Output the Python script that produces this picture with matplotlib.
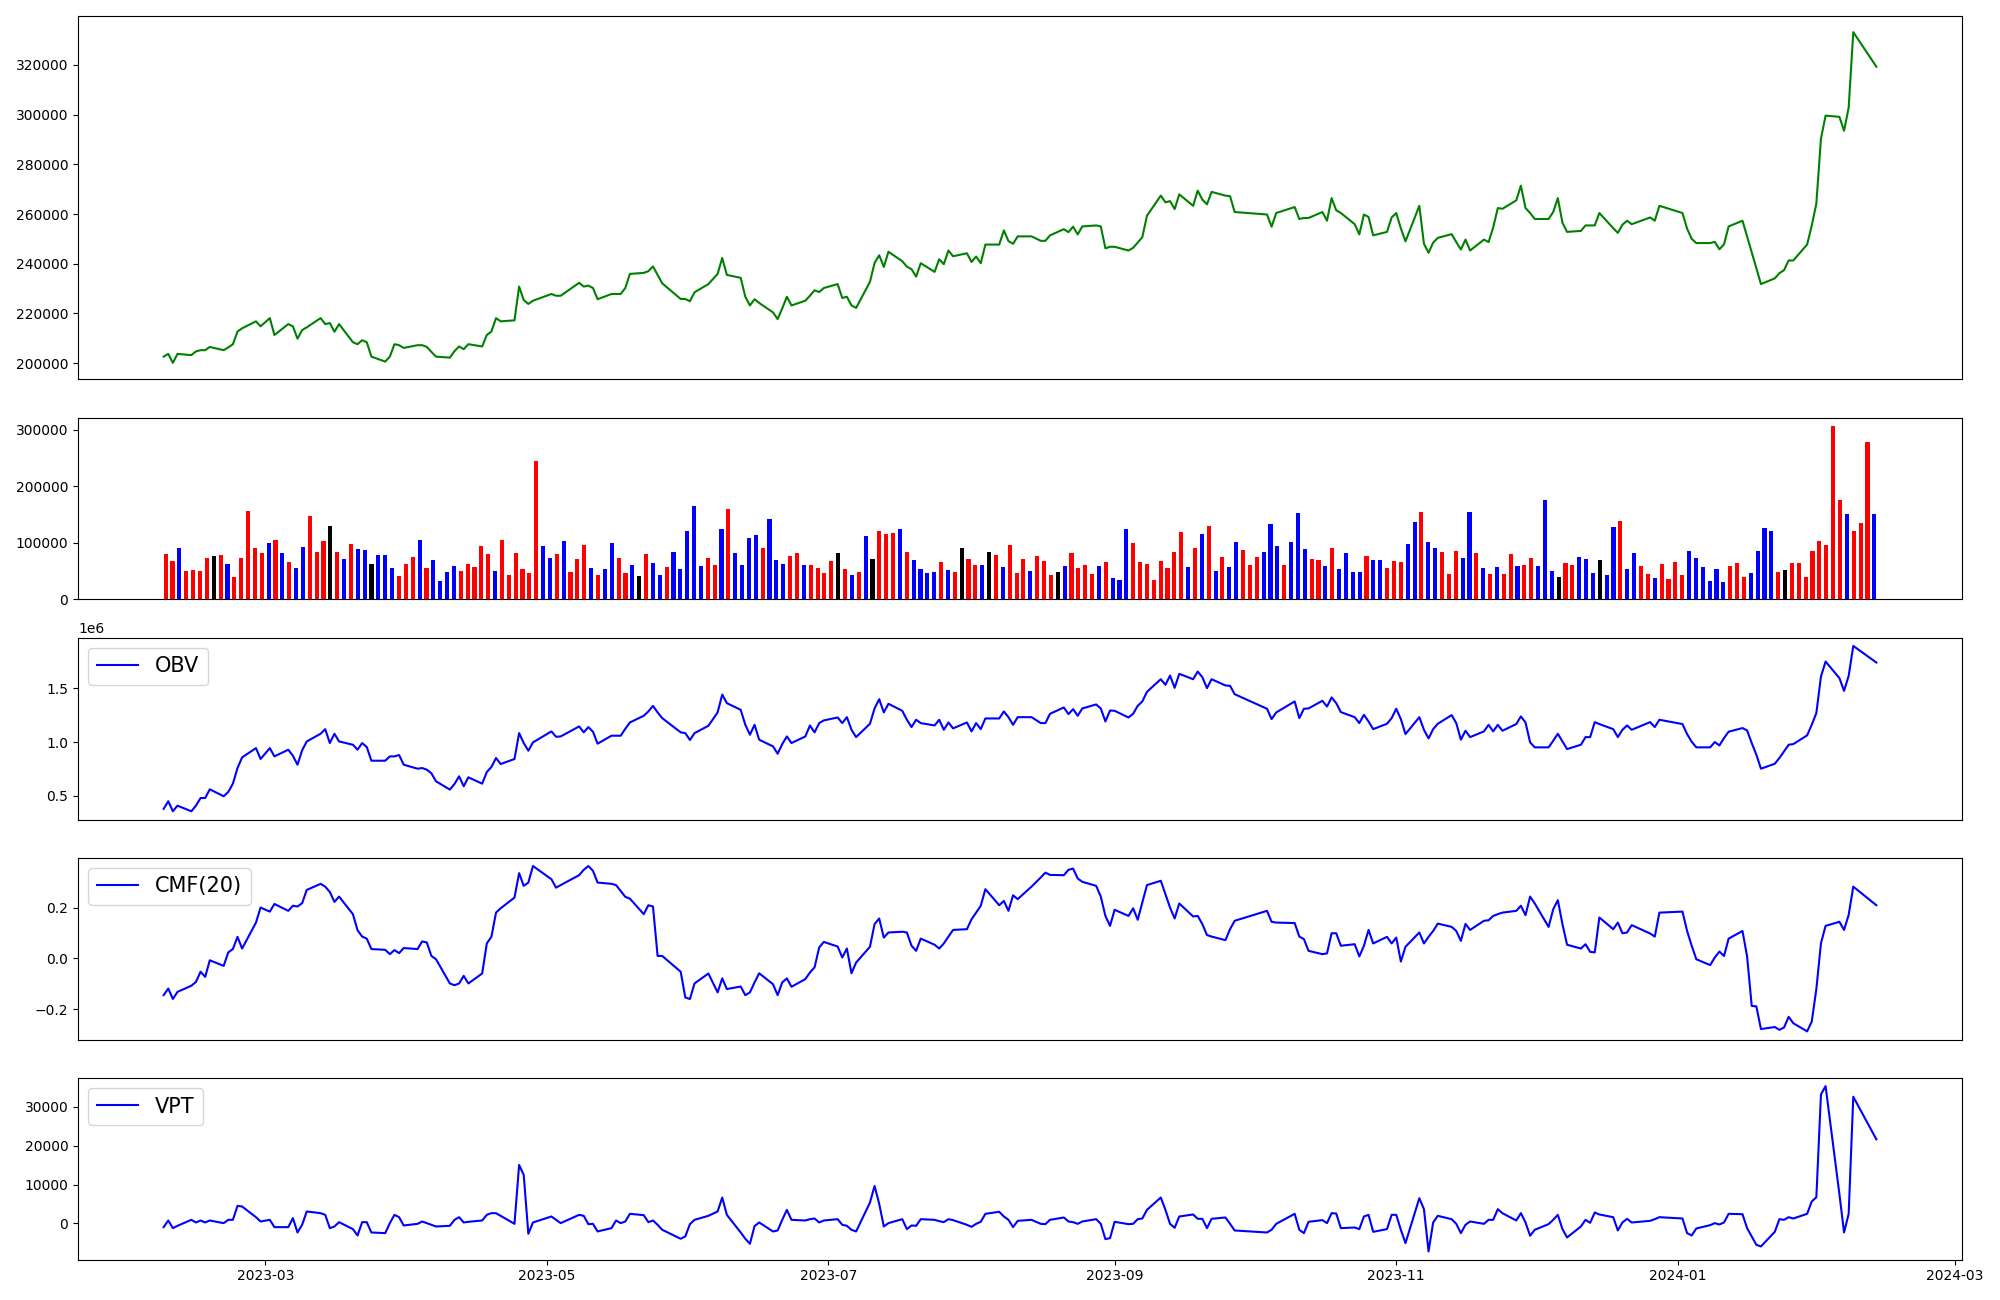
import numpy as np
import pandas as pd
import matplotlib
matplotlib.use("Agg")
import matplotlib.pyplot as plt
import matplotlib.dates as mdates

# trading days (KRX calendar)
holidays = ['2023-03-01', '2023-05-01', '2023-05-05', '2023-05-29', '2023-06-06',
            '2023-08-15', '2023-09-28', '2023-09-29', '2023-10-02', '2023-10-03',
            '2023-10-09', '2023-12-25', '2023-12-29', '2024-01-01', '2024-02-09',
            '2024-02-12']
dates = pd.bdate_range('2023-02-07', '2024-02-13', freq='C', holidays=holidays)

close = [
    202600, 203700, 200100, 203700, 203200, 204700, 205200, 205200, 206500, 205200,
    206300, 207600, 212700, 214000, 216800, 214800, 218100, 211300, 215700, 214800,
    209800, 213300, 214400, 218100, 215700, 216100, 212600, 215700, 208400, 207600,
    209200, 208400, 202600, 200600, 202600, 207600, 207200, 206100, 207200, 207200,
    206500, 204500, 202600, 202200, 204800, 206700, 205600, 207600, 206700, 211300,
    212700, 218100, 216800, 217200, 230800, 225400, 223800, 225100, 227800, 227100,
    227100, 232300, 230800, 231200, 230200, 225700, 227800, 227800, 227800, 230200,
    235900, 236300, 237000, 238900, 235500, 232100, 225800, 225800, 224900, 228500,
    231800, 235900, 242300, 235500, 234300, 226700, 223200, 225700, 224200, 220400,
    217700, 222000, 226700, 223200, 225100, 227100, 229300, 228600, 230200, 231800,
    226200, 226700, 223200, 222200, 232700, 240300, 243400, 238700, 244800, 241000,
    238800, 237800, 234800, 240200, 236700, 241800, 239800, 245300, 243000, 244200,
    240700, 242900, 240200, 247700, 247700, 253400, 249100, 248000, 251000, 251000,
    249200, 249200, 251400, 253900, 252700, 254900, 251800, 255000, 255400, 255000,
    246200, 246800, 246800, 245300, 246400, 248500, 250700, 259300, 267400, 264700,
    265200, 262000, 267900, 263300, 269400, 265800, 263900, 268900, 267400, 267200,
    260800, 259800, 254900, 260400, 262800, 258000, 258400, 258400, 260800, 257300,
    266400, 261500, 260400, 255900, 251800, 259800, 258800, 251400, 252800, 258600,
    260400, 254200, 249000, 263300, 248000, 244400, 248500, 250400, 251900, 248700,
    245700, 249700, 245300, 249700, 248700, 254600, 262400, 262100, 265500, 271400,
    262400, 260400, 258000, 258000, 260800, 266400, 256500, 252800, 253200, 255400,
    255400, 255400, 260400, 254300, 252400, 255700, 257300, 255900, 258600, 257300,
    263300, 260400, 254100, 250000, 248300, 248300, 248800, 245800, 247800, 255000,
    257300, 251000, 244600, 238200, 231800, 234100, 236200, 237400, 241300, 241300,
    247700, 255300, 264200, 290400, 299600, 299100, 293500, 302800, 333200, 319300,
]

volume = [
    79600, 67200, 90200, 49500, 51300, 49500, 72500, 76000, 77800, 61900,
    38900, 72500, 155600, 90200, 81300, 99000, 104300, 81300, 65400, 54800,
    91900, 146700, 83100, 102500, 129100, 83100, 70700, 97200, 88400, 86600,
    61900, 77800, 77800, 54800, 40700, 61900, 74300, 104300, 54800, 69000,
    31800, 47700, 58300, 49500, 61900, 56600, 93700, 79600, 49500, 104300,
    42400, 81300, 53000, 46000, 244000, 93700, 72500, 79600, 102500, 47700,
    70700, 95500, 54800, 42400, 53000, 99000, 72500, 46000, 60100, 40700,
    79600, 63600, 42400, 56600, 83100, 53000, 120200, 164400, 58300, 72500,
    60100, 123800, 159100, 81300, 60100, 107800, 113200, 90200, 141400, 69000,
    61900, 76000, 81300, 60100, 60100, 54800, 46000, 67200, 81300, 53000,
    42400, 47700, 111400, 70700, 120200, 114900, 116700, 123800, 83100, 69000,
    53000, 46000, 47700, 65400, 51300, 47700, 90200, 70700, 60100, 60100,
    83100, 77800, 56600, 95500, 46000, 70700, 49500, 76000, 67200, 42400,
    47700, 58300, 81300, 54800, 60100, 44200, 58300, 65400, 37100, 33600,
    123800, 99000, 65400, 61900, 33600, 67200, 54800, 83100, 118500, 56600,
    90200, 114900, 129100, 49500, 74300, 56600, 100800, 86600, 60100, 74300,
    83100, 132600, 93700, 60100, 100800, 152000, 88400, 70700, 69000, 58300,
    90200, 53000, 81300, 47700, 47700, 76000, 69000, 69000, 54800, 67200,
    65400, 97200, 136100, 153800, 100800, 90200, 83100, 44200, 84900, 72500,
    153800, 81300, 54800, 44200, 56600, 44200, 79600, 58300, 60100, 72500,
    58300, 175000, 49500, 38900, 63600, 60100, 74300, 70700, 46000, 69000,
    42400, 127300, 137900, 53000, 81300, 58300, 44200, 37100, 61900, 35400,
    65400, 42400, 84900, 72500, 56600, 31800, 53000, 30100, 58300, 63600,
    38900, 46000, 84900, 125500, 120200, 47700, 51300, 63600, 63600, 38900,
    84900, 102500, 95500, 305800, 175000, 150300, 120200, 134400, 277600, 150300,
]

# r = up candle, b = down candle, k = unchanged
bar_codes = (
    "rrbrrrrkrb" "rrrrrbrbrb" "brrrkrbrbb" "kbbbrrrbrb" "bbbrrrrrbr"
    "rrrrrbbrbr" "rrbrbbrrbk" "rbbrbbbbbr" "rbrbbbbrbb" "brrbrrrrkr"
    "brbkrrrbrb" "bbbrbrkrrb" "krbrrrbrrr" "kbrrrrbrbb" "brrrrrrrrb"
    "rbrbrbbrrr" "bbbrbbbrrb" "rbbbbrbbrr" "rbbrbbrrrb" "brbrbrrbrr"
    "bbbkrrbbbk" "bbrbbrrbrr" "rrbbbbbbrr" "rbbbbrkrrr" "rrrrrbrrrb"
)
code_colors = {'r': 'red', 'b': 'blue', 'k': 'black'}

obv = [
    0.380, 0.451, 0.358, 0.410, 0.358, 0.410, 0.481, 0.481, 0.562, 0.497,
    0.537, 0.614, 0.759, 0.858, 0.944, 0.843, 0.944, 0.867, 0.929, 0.873,
    0.790, 0.923, 1.006, 1.077, 1.120, 0.991, 1.077, 1.006, 0.975, 0.929,
    0.991, 0.954, 0.827, 0.827, 0.867, 0.867, 0.880, 0.790, 0.753, 0.759,
    0.744, 0.710, 0.636, 0.559, 0.611, 0.682, 0.590, 0.673, 0.614, 0.722,
    0.769, 0.852, 0.796, 0.843, 1.083, 0.991, 0.920, 0.997, 1.099, 1.049,
    1.052, 1.145, 1.090, 1.139, 1.096, 0.985, 1.059, 1.059, 1.059, 1.123,
    1.182, 1.244, 1.284, 1.336, 1.275, 1.222, 1.090, 1.083, 1.019, 1.083,
    1.151, 1.275, 1.441, 1.361, 1.299, 1.160, 1.068, 1.160, 1.022, 0.960,
    0.892, 0.981, 1.052, 0.991, 1.052, 1.154, 1.090, 1.176, 1.201, 1.228,
    1.176, 1.231, 1.114, 1.046, 1.170, 1.312, 1.398, 1.275, 1.355, 1.290,
    1.207, 1.139, 1.207, 1.176, 1.154, 1.207, 1.114, 1.182, 1.127, 1.182,
    1.099, 1.176, 1.120, 1.219, 1.219, 1.284, 1.231, 1.160, 1.231, 1.231,
    1.176, 1.176, 1.262, 1.321, 1.259, 1.306, 1.244, 1.312, 1.349, 1.312,
    1.191, 1.293, 1.290, 1.228, 1.262, 1.336, 1.377, 1.466, 1.583, 1.531,
    1.617, 1.503, 1.633, 1.583, 1.654, 1.602, 1.500, 1.583, 1.525, 1.522,
    1.444, 1.309, 1.213, 1.275, 1.377, 1.222, 1.309, 1.312, 1.383, 1.330,
    1.414, 1.361, 1.278, 1.231, 1.176, 1.253, 1.191, 1.120, 1.170, 1.222,
    1.309, 1.213, 1.074, 1.231, 1.114, 1.034, 1.120, 1.170, 1.250, 1.176,
    1.022, 1.105, 1.046, 1.099, 1.160, 1.099, 1.160, 1.105, 1.167, 1.238,
    1.182, 0.997, 0.951, 0.951, 1.012, 1.077, 1.006, 0.935, 0.975, 1.046,
    1.046, 1.185, 1.167, 1.120, 1.046, 1.114, 1.154, 1.114, 1.185, 1.139,
    1.207, 1.167, 1.074, 1.003, 0.951, 0.951, 1.000, 0.969, 1.037, 1.096,
    1.130, 1.108, 0.991, 0.883, 0.753, 0.799, 0.852, 0.914, 0.975, 0.981,
    1.062, 1.160, 1.269, 1.608, 1.747, 1.593, 1.475, 1.614, 1.892, 1.738,
]

cmf = [
    -0.144, -0.118, -0.159, -0.131, -0.107, -0.092, -0.052, -0.072, -0.007, -0.029,
    0.024, 0.037, 0.085, 0.039, 0.141, 0.200, 0.184, 0.214, 0.187, 0.207,
    0.204, 0.217, 0.269, 0.293, 0.282, 0.261, 0.222, 0.243, 0.174, 0.111,
    0.086, 0.078, 0.037, 0.034, 0.017, 0.033, 0.021, 0.041, 0.037, 0.067,
    0.063, 0.010, -0.003, -0.098, -0.105, -0.098, -0.068, -0.098, -0.059, 0.059,
    0.085, 0.180, 0.197, 0.239, 0.335, 0.285, 0.298, 0.363, 0.311, 0.278,
    0.288, 0.327, 0.348, 0.363, 0.344, 0.298, 0.293, 0.288, 0.265, 0.242,
    0.235, 0.174, 0.209, 0.204, 0.010, 0.010, -0.052, -0.153, -0.159, -0.098,
    -0.059, -0.133, -0.078, -0.120, -0.110, -0.144, -0.133, -0.094, -0.058, -0.101,
    -0.144, -0.094, -0.078, -0.111, -0.081, -0.055, -0.035, 0.043, 0.065, 0.047,
    0.004, 0.039, -0.058, -0.016, 0.046, 0.135, 0.157, 0.082, 0.102, 0.105,
    0.102, 0.050, 0.030, 0.078, 0.054, 0.039, 0.059, 0.086, 0.112, 0.115,
    0.154, 0.180, 0.207, 0.272, 0.209, 0.226, 0.187, 0.248, 0.233, 0.282,
    0.318, 0.337, 0.328, 0.327, 0.348, 0.353, 0.314, 0.301, 0.285, 0.243,
    0.167, 0.128, 0.191, 0.167, 0.197, 0.152, 0.220, 0.288, 0.305, 0.252,
    0.200, 0.157, 0.216, 0.165, 0.167, 0.135, 0.092, 0.086, 0.072, 0.115,
    0.148, 0.187, 0.144, 0.141, 0.139, 0.086, 0.076, 0.030, 0.017, 0.020,
    0.099, 0.099, 0.050, 0.056, 0.008, 0.050, 0.112, 0.059, 0.085, 0.059,
    0.082, -0.012, 0.046, 0.102, 0.059, 0.085, 0.108, 0.137, 0.124, 0.108,
    0.069, 0.136, 0.112, 0.148, 0.150, 0.167, 0.174, 0.180, 0.187, 0.207,
    0.170, 0.243, 0.216, 0.124, 0.193, 0.229, 0.135, 0.054, 0.039, 0.056,
    0.026, 0.024, 0.161, 0.115, 0.141, 0.099, 0.102, 0.131, 0.098, 0.086,
    0.180, 0.184, 0.108, 0.050, -0.003, -0.026, 0.004, 0.027, 0.010, 0.078,
    0.108, 0.008, -0.186, -0.188, -0.277, -0.269, -0.280, -0.271, -0.229, -0.254,
    -0.286, -0.248, -0.120, 0.060, 0.128, 0.144, 0.112, 0.171, 0.282, 0.209,
]

vpt = [
    -940, 770, -1200, -600, 940, 260, 770, 260, 770, 90,
    940, 940, 4530, 4360, 1620, 510, 940, -940, -940, 1370,
    -2310, -340, 3080, 2650, 2220, -1200, -770, 340, -1450, -3080,
    340, 340, -2310, -2480, 90, 2220, 1620, -510, -90, 510,
    90, -340, -770, -600, 940, 1620, 260, 430, 770, 2220,
    2650, 2650, 1970, -90, 15040, 12480, -2650, 260, 1800, 940,
    90, 2220, 1970, -170, -90, -2050, -1200, 770, 90, 510,
    2480, 2140, 340, 770, -340, -1620, -3930, -3330, -170, 940,
    1970, 3080, 6670, 2220, -2310, -3930, -5210, -680, 260, -2050,
    -1800, 940, 3500, 940, 770, 1110, 1280, 260, 770, 1110,
    -340, -600, -1620, -2050, 5380, 9660, 5040, -770, 90, 1110,
    -1450, -510, -600, 1110, 940, 600, 340, 1110, 860, -340,
    -860, -90, 430, 2480, 3000, 1800, 940, -940, 680, 940,
    -90, -170, 940, 1540, 510, 340, -90, 510, 1110, -90,
    -4020, -3760, 430, -170, -90, 1110, 1280, 3500, 6670, 3500,
    -90, -1110, 1800, 2310, 1200, 1200, -1200, 1200, 1540, -90,
    -1800, -2310, -1620, -90, 2480, -1620, -2480, 430, 860, 90,
    2650, 2560, -1200, -1030, -1450, 1800, 2220, -2140, -1450, 2220,
    2220, -1620, -5040, 6500, 3680, -7180, 260, 1970, 1110, -90,
    -2480, -340, 510, -90, 940, 940, 3680, 2650, 770, 2650,
    260, -3160, -1620, -170, 940, 2220, -1450, -3590, -770, 940,
    170, 2820, 2310, 1620, -1800, 260, 1200, 260, 680, 1110,
    1620, 1280, -2480, -3080, -1280, -430, 90, -260, 260, 2480,
    2390, -1200, -3330, -5470, -5900, -2140, 1110, 940, 1620, 1280,
    2480, 5640, 6750, 33160, 35300, 7500, -2310, 2480, 32560, 21620,
]

assert len(dates) == len(close) == len(volume) == len(bar_codes) == len(obv) == len(cmf) == len(vpt)

bar_colors = [code_colors[c] for c in bar_codes]

fig, axes = plt.subplots(5, 1, figsize=(20, 13),
                         gridspec_kw={'height_ratios': [2, 1, 1, 1, 1]})
plt.subplots_adjust(left=0.039, right=0.981, top=0.988, bottom=0.031, hspace=0.175)
ax_price, ax_vol, ax_obv, ax_cmf, ax_vpt = axes

ax_price.plot(dates, close, color='green')

ax_vol.bar(np.arange(len(volume)), volume, color=bar_colors, width=0.6)

ax_obv.plot(dates, np.array(obv) * 1e6, color='blue', label='OBV')
ax_obv.legend(loc='upper left', fontsize=15)

ax_cmf.plot(dates, cmf, color='blue', label='CMF(20)')
ax_cmf.legend(loc='upper left', fontsize=15)

ax_vpt.plot(dates, vpt, color='blue', label='VPT')
ax_vpt.legend(loc='upper left', fontsize=15)

for ax in axes[:-1]:
    ax.tick_params(axis='x', bottom=False, labelbottom=False)

ax_vpt.xaxis.set_major_locator(mdates.MonthLocator(bymonth=(1, 3, 5, 7, 9, 11)))
ax_vpt.xaxis.set_major_formatter(mdates.DateFormatter('%Y-%m'))

plt.savefig('out.png', dpi=100)
